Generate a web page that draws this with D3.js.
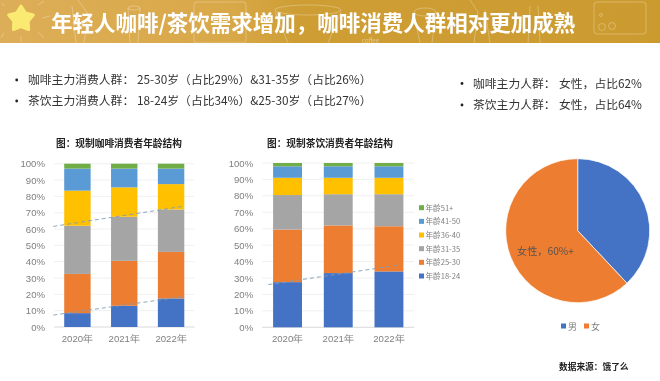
<!DOCTYPE html>
<html>
<head>
<meta charset="utf-8">
<script src="https://cdn.jsdelivr.net/npm/d3@7"></script>
<style>
  html, body { margin: 0; padding: 0; background: #fff; }
  svg { display: block; font-family: "Noto Sans CJK SC", "Noto Sans", sans-serif; filter: blur(0.3px); }
</style>
</head>
<body>
<div id="chart"></div>
<script>
const years = ["2020年", "2021年", "2022年"];
const ageGroups = ["年龄18-24", "年龄25-30", "年龄31-35", "年龄36-40", "年龄41-50", "年龄51+"];
const ageColors = ["#4472C4", "#ED7D31", "#A5A5A5", "#FFC000", "#5B9BD5", "#70AD47"];
const percentTicks = [0, 10, 20, 30, 40, 50, 60, 70, 80, 90, 100];

// one row per year, bottom segment first
const coffeeValues = [
  [8.5, 24, 29.5, 21.5, 13.5, 3],
  [13, 27.5, 27, 18, 11.5, 3],
  [17.5, 28.5, 26, 15.5, 9.5, 3]
];
const teaValues = [
  [27.5, 32, 21, 10.5, 7, 2],
  [33, 29, 19, 10, 7, 2],
  [34, 27.5, 19.5, 10, 7, 2]
];

// dashed guides: [year index offset, percent]
const coffeeTrends = [
  [[-0.515, 61.6], [2.26, 73.9]],
  [[-0.515, 7.3], [2.26, 18.6]]
];
const teaTrends = [[[-0.378, 26], [2.217, 38]]];

const genderLabels = ["男", "女"];
const genderValues = [38, 62];
const genderColors = ["#4472C4", "#ED7D31"];

const titleText = "年轻人咖啡/茶饮需求增加，咖啡消费人群相对更加成熟";
const leftNotes = [
  ["咖啡主力消费人群：", "25-30岁（占比29%）&31-35岁（占比26%）"],
  ["茶饮主力消费人群：", "18-24岁（占比34%）&25-30岁（占比27%）"]
];
const rightNotes = [
  ["咖啡主力人群：", "女性，占比62%"],
  ["茶饮主力人群：", "女性，占比64%"]
];

const svg = d3.select("#chart").append("svg").attr("width", 660).attr("height", 381);

function drawHeader() {
  const defs = svg.append("defs");
  const grad = defs.append("linearGradient").attr("id", "band");
  grad.append("stop").attr("offset", "0%").attr("stop-color", "#DDAE58");
  grad.append("stop").attr("offset", "35%").attr("stop-color", "#D9A848");
  grad.append("stop").attr("offset", "45%").attr("stop-color", "#CE9E35");
  grad.append("stop").attr("offset", "100%").attr("stop-color", "#CC9B30");
  svg.append("rect").attr("width", 660).attr("height", 43).attr("fill", "url(#band)");

  // faint line art behind the title
  const art = svg.append("g").attr("fill", "none").attr("stroke", "#fff").attr("stroke-opacity", 0.35).attr("stroke-width", 0.8);
  art.append("rect").attr("x", 194).attr("y", 2).attr("width", 52).attr("height", 41).attr("rx", 3);
  art.append("rect").attr("x", 594).attr("y", 2).attr("width", 52).attr("height", 32).attr("rx", 3);
  art.append("circle").attr("cx", 602).attr("cy", 27).attr("r", 3.5);
  art.append("circle").attr("cx", 612).attr("cy", 26).attr("r", 3.5);
  art.append("circle").attr("cx", 601).attr("cy", 15).attr("r", 1.5);
  art.append("ellipse").attr("cx", 308).attr("cy", 10).attr("rx", 33).attr("ry", 5);
  art.append("ellipse").attr("cx", 425).attr("cy", 12).attr("rx", 11).attr("ry", 4);
  art.append("ellipse").attr("cx", 134).attr("cy", 8).attr("rx", 6).attr("ry", 2);
  art.append("path").attr("d", "M275 12 L288 43 M341 12 L328 43 M414 14 L420 43 M436 14 L432 43 M128 8 L130 43 M140 8 L138 43 M72 6 L76 43 M78 0 L88 14 L84 43 M470 0 L478 12 L474 43 M485 10 L490 43 M530 6 L528 43 M538 6 L540 43");
  art.append("path").attr("d", "M38 5 L44 1 M42 18 L50 16 M38 32 L44 38 M5 6 L2 3 M4 33 L1 38 M21 36 L21 42");
  art.append("text").attr("x", 362).attr("y", 43).attr("font-size", 6).attr("fill", "#fff").attr("fill-opacity", 0.45).attr("stroke", "none").text("coffee");

  const star = d3.range(10).map((i) => {
    const r = i % 2 ? 7.5 : 13, a = (i * Math.PI) / 5;
    return [21 + r * Math.sin(a), 19 - r * Math.cos(a)];
  });
  svg.append("polygon").attr("points", star.join(" ")).attr("fill", "#FBEA72")
    .attr("stroke", "#FBEA72").attr("stroke-linejoin", "round").attr("stroke-width", 3);

  svg.append("text").attr("x", 51).attr("y", 31).attr("fill", "#fff")
    .attr("font-size", 21.5).attr("font-weight", 700).text(titleText);
}

function drawNotes(rows, xBullet, xLabel, xValue, yStart, yStep) {
  const g = svg.append("g").attr("fill", "#333").attr("font-size", 11.8);
  rows.forEach((row, i) => {
    const y = yStart + i * yStep;
    g.append("circle").attr("cx", xBullet).attr("cy", y - 4).attr("r", 1.4).attr("fill", "#222");
    g.append("text").attr("x", xLabel).attr("y", y).text(row[0]);
    g.append("text").attr("x", xValue).attr("y", y).text(row[1]);
  });
}

function drawStacked(opts) {
  const g = svg.append("g");
  const x = d3.scaleBand().domain(years).range(opts.xRange).paddingInner(opts.inner).paddingOuter(opts.inner / 2);
  const y = d3.scaleLinear().domain([0, 100]).range(opts.yRange);

  g.append("text").attr("x", opts.titleX).attr("y", 147).attr("font-size", 9.7)
    .attr("font-weight", 700).attr("fill", "#222").text(opts.title);

  g.selectAll(".grid").data(percentTicks).join("line")
    .attr("x1", opts.xRange[0]).attr("x2", opts.xRange[1])
    .attr("y1", (d) => y(d)).attr("y2", (d) => y(d))
    .attr("stroke", (d) => (d === 0 ? "#D0D0D0" : "#ECECEC")).attr("stroke-width", 0.8);

  const rows = opts.values.map((v, i) => {
    const row = { year: years[i] };
    ageGroups.forEach((a, j) => { row[a] = v[j]; });
    return row;
  });
  const layers = d3.stack().keys(ageGroups)(rows);
  g.selectAll(".layer").data(layers).join("g")
    .attr("fill", (d, i) => ageColors[i])
    .selectAll("rect").data((d) => d).join("rect")
    .attr("x", (d) => x(d.data.year)).attr("width", x.bandwidth())
    .attr("y", (d) => y(d[1])).attr("height", (d) => y(d[0]) - y(d[1]));

  const axisL = g.append("g").attr("transform", `translate(${opts.xRange[0]},0)`)
    .call(d3.axisLeft(y).tickValues(percentTicks).tickSize(0).tickPadding(9).tickFormat((d) => d + "%"));
  axisL.select(".domain").remove();
  axisL.selectAll("text").attr("font-family", "inherit").attr("font-size", 9.6).attr("fill", "#7F7F7F");

  const axisB = g.append("g").attr("transform", `translate(0,${opts.yRange[0]})`)
    .call(d3.axisBottom(x).tickSize(0).tickPadding(8));
  axisB.select(".domain").remove();
  axisB.selectAll("text").attr("font-family", "inherit").attr("font-size", 9.6).attr("fill", "#7F7F7F");

  const step = x.step();
  const x0 = x(years[0]) + x.bandwidth() / 2;
  const line = d3.line().x((d) => x0 + d[0] * step).y((d) => y(d[1]));
  g.selectAll(".trend").data(opts.trends).join("path")
    .attr("d", line).attr("fill", "none").attr("stroke", "#7F9DB5")
    .attr("stroke-width", 0.9).attr("stroke-dasharray", "4 3");
}

function drawAgeLegend() {
  const y = d3.scalePoint().domain(ageGroups.slice().reverse()).range([207.7, 276]);
  const g = svg.append("g").selectAll("g").data(ageGroups).join("g")
    .attr("transform", (d) => `translate(419,${y(d)})`);
  g.append("rect").attr("x", 0).attr("y", -2.5).attr("width", 5).attr("height", 5)
    .attr("fill", (d, i) => ageColors[i]);
  g.append("text").attr("x", 6.5).attr("y", 3).attr("font-size", 7.6).attr("fill", "#7F7F7F").text((d) => d);
}

function drawPie() {
  const g = svg.append("g").attr("transform", "translate(577.7,230.7)");
  const arcs = d3.pie().sort(null)(genderValues);
  const arc = d3.arc().innerRadius(0).outerRadius(72);
  g.selectAll("path").data(arcs).join("path").attr("d", arc)
    .attr("fill", (d, i) => genderColors[i]).attr("stroke", "#fff").attr("stroke-width", 0.7);

  svg.append("text").attr("x", 517).attr("y", 255).attr("font-size", 10.2).attr("fill", "#555").text("女性，60%+");

  const lx = d3.scalePoint().domain(genderLabels).range([561, 584]);
  const lg = svg.append("g").selectAll("g").data(genderLabels).join("g")
    .attr("transform", (d) => `translate(${lx(d)},326)`);
  lg.append("rect").attr("y", -2.5).attr("width", 5).attr("height", 5).attr("fill", (d, i) => genderColors[i]);
  lg.append("text").attr("x", 7).attr("y", 3.5).attr("font-size", 9).attr("fill", "#7F7F7F").text((d) => d);

  svg.append("text").attr("x", 559).attr("y", 370).attr("font-size", 8.7).attr("font-weight", 700)
    .attr("fill", "#222").text("数据来源：饿了么");
}

drawHeader();
drawNotes(leftNotes, 16.7, 28, 137, 84, 21);
drawNotes(rightNotes, 462, 473, 559, 87.5, 21.5);
drawStacked({
  title: "图：现制咖啡消费者年龄结构", titleX: 56,
  values: coffeeValues, trends: coffeeTrends,
  xRange: [54, 194.5], yRange: [327, 163.7], inner: 0.436
});
drawStacked({
  title: "图：现制茶饮消费者年龄结构", titleX: 267,
  values: teaValues, trends: teaTrends,
  xRange: [262.2, 414.3], yRange: [327.3, 163], inner: 0.43
});
drawAgeLegend();
drawPie();
</script>
</body>
</html>
